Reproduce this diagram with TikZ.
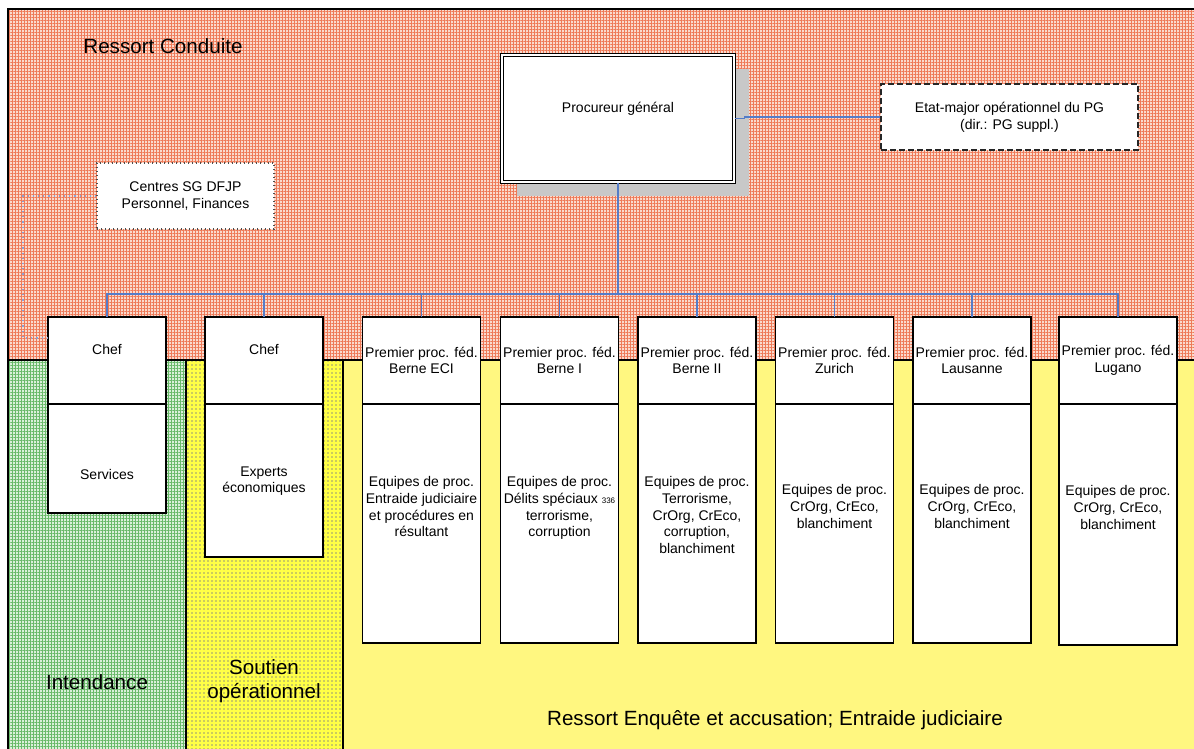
\documentclass[tikz,border=0pt]{standalone}
\usepackage{fontspec}
\setmainfont{Liberation Sans}
\usepackage{tikz}
\usetikzlibrary{positioning,patterns.meta,shadows}
\newcommand{\fsmall}{\fontsize{7}{8.4}\selectfont}
\newcommand{\fbig}{\fontsize{10.3}{12}\selectfont}
\definecolor{c_cond}{RGB}{250,218,205}
\definecolor{c_condgrid}{RGB}{238,122,88}
\definecolor{c_int}{RGB}{218,240,218}
\definecolor{c_intgrid}{RGB}{105,185,105}
\definecolor{c_sout}{RGB}{255,255,70}
\definecolor{c_soutdot}{RGB}{150,150,120}
\definecolor{c_enq}{RGB}{255,247,128}
\definecolor{c_line}{RGB}{84,124,200}
\definecolor{c_shadow}{RGB}{200,200,200}
\tikzset{c-head/.style={rectangle, anchor=north, minimum width=59pt, minimum height=43.5pt, inner sep=0pt, outer sep=0pt, align=center, draw=black, line width=0.6pt, fill=white, font=\fsmall},
c-body/.style={rectangle, minimum width=59pt, minimum height=#1, inner sep=0pt, outer sep=0pt, draw=black, line width=0.6pt, fill=white},
c-text/.style={inner sep=0pt, align=center, font=\fsmall},
c-pg/.style={rectangle, minimum width=116pt, minimum height=63.5pt, align=center, draw=black, line width=0.6pt, double=white, double distance=1pt, fill=white, font=\fsmall, general shadow={fill=c_shadow, shadow xshift=7.5pt, shadow yshift=-7pt}},
c-dashed/.style={rectangle, minimum width=128.5pt, minimum height=33pt, align=center, draw=black!85, line width=0.7pt, dash pattern=on 3pt off 1.5pt, fill=white, font=\fsmall},
c-dotted/.style={rectangle, minimum width=88.5pt, minimum height=33pt, align=center, draw=black!70, line width=0.6pt, dash pattern=on 0.6pt off 1.4pt, fill=white, font=\fsmall},
c-label/.style={inner sep=0pt, align=center, font=\fbig},
c-conn/.style={draw=c_line, line width=0.6pt},
c-aux/.style={draw=c_line!70, line width=0.6pt, dash pattern=on 0.6pt off 2pt}}

\begin{document}
\begin{tikzpicture}[x=0.5pt, y=-0.5pt]
\useasboundingbox (0,0) rectangle (1194,749);
\fill[c_cond] (8,9) rectangle (1200,360);
\fill[pattern={Hatch[angle=0,distance=1.5pt,line width=0.28pt]}, pattern color=c_condgrid] (8,9) rectangle (1200,360);
\fill[c_int] (8,360) rectangle (186,760);
\fill[pattern={Hatch[angle=0,distance=1.5pt,line width=0.28pt]}, pattern color=c_intgrid] (8,360) rectangle (186,760);
\fill[c_sout] (186,360) rectangle (343,760);
\fill[pattern={Dots[distance=2pt,radius=0.4pt]}, pattern color=c_soutdot] (186,360) rectangle (343,760);
\fill[c_enq] (343,360) rectangle (1200,760);
\draw[line width=0.8pt] (8,760) -- (8,9) -- (1200,9);
\draw[line width=0.7pt] (8,360) -- (1200,360);
\draw[line width=0.6pt] (186,360) -- (186,760);
\draw[line width=0.6pt] (343,360) -- (343,760);

\node (lcond) [c-label] at (163,46) {Ressort Conduite};
\node (lint) [c-label] at (97,682) {Intendance};
\node (lsout) [c-label] at (264,681) {Soutien\\opérationnel};
\node (lenq) [c-label] at (775,720) {Ressort Enquête et accusation; Entraide judiciaire};

\node (pg) [c-pg] at (618,118.5) {Procureur général\\\strut};
\node (stab) [c-dashed] at (1009.5,117) {Etat-major opérationnel du PG\\(dir.: PG suppl.)};
\node (centres) [c-dotted] at (185.5,196) {Centres SG DFJP\\Personnel, Finances};

\node (n1a) [c-head] at (107,317) {Chef\\\strut};
\node (n1b) [c-head] at (264,317) {Chef\\\strut};
\node (n1c) [c-head] at (421.5,317) {Premier proc. féd.\\Berne ECI};
\node (n1d) [c-head] at (559.5,317) {Premier proc. féd.\\Berne I};
\node (n1e) [c-head] at (697,317) {Premier proc. féd.\\Berne II};
\node (n1f) [c-head] at (834.5,317) {Premier proc. féd.\\Zurich};
\node (n1g) [c-head] at (972,317) {Premier proc. féd.\\Lausanne};
\node (n1h) [c-head] at (1118,317) {Premier proc. féd.\\Lugano};

\node (n2a) [c-body=54.5pt, below=0pt of n1a] {};
\node (n2b) [c-body=76.5pt, below=0pt of n1b] {};
\node (n2c) [c-body=119.5pt, below=0pt of n1c] {};
\node (n2d) [c-body=119.5pt, below=0pt of n1d] {};
\node (n2e) [c-body=119.5pt, below=0pt of n1e] {};
\node (n2f) [c-body=119.5pt, below=0pt of n1f] {};
\node (n2g) [c-body=119.5pt, below=0pt of n1g] {};
\node (n2h) [c-body=120.5pt, below=0pt of n1h] {};

\node (t2a) [c-text, below=32.5pt of n2a.north] {Services};
\node (t2b) [c-text, below=31pt of n2b.north] {Experts\\économiques};
\node (t2c) [c-text, below=36pt of n2c.north] {Equipes de proc.\\Entraide judiciaire\\et procédures en\\résultant};
\node (t2d) [c-text, below=36pt of n2d.north] {Equipes de proc.\\Délits spéciaux {\fontsize{4}{5}\selectfont 336}\\terrorisme,\\corruption};
\node (t2e) [c-text, below=36pt of n2e.north] {Equipes de proc.\\Terrorisme,\\CrOrg, CrEco,\\corruption,\\blanchiment};
\node (t2f) [c-text, below=40pt of n2f.north] {Equipes de proc.\\CrOrg, CrEco,\\blanchiment};
\node (t2g) [c-text, below=40pt of n2g.north] {Equipes de proc.\\CrOrg, CrEco,\\blanchiment};
\node (t2h) [c-text, below=40.5pt of n2h.north] {Equipes de proc.\\CrOrg, CrEco,\\blanchiment};

\coordinate (bus) at (618,294);
\draw [c-conn] (pg) -- (bus);
\draw [c-conn] (bus) -| (n1a);
\draw [c-conn] (bus) -| (n1b);
\draw [c-conn] (bus) -| (n1c);
\draw [c-conn] (bus) -| (n1d);
\draw [c-conn] (bus) -| (n1e);
\draw [c-conn] (bus) -| (n1f);
\draw [c-conn] (bus) -| (n1g);
\draw [c-conn] (bus) -| (n1h);
\draw [c-conn] (pg.east) -- ++(10,0) |- (stab.west);
\coordinate (bend) at (23,338);
\draw [c-aux] (centres.west) -| (bend) -- (bend -| n1a.west);
\end{tikzpicture}
\end{document}
